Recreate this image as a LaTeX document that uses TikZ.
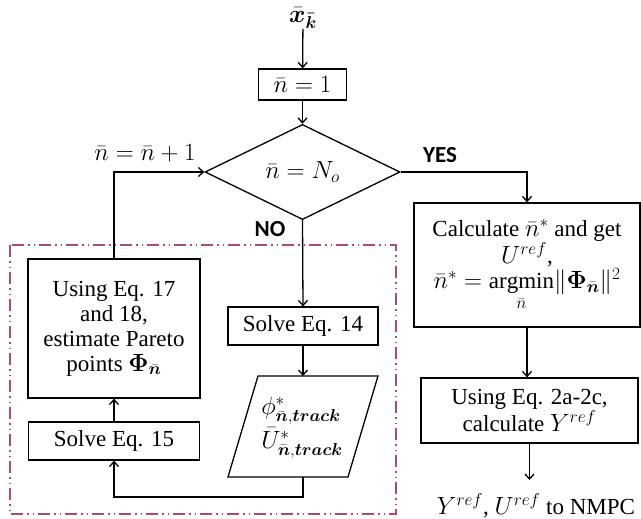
\documentclass[tikz,border=0pt]{standalone}
\usepackage{amsmath}
\usepackage{bm}
\usepackage{fontspec}
\setmainfont{Liberation Serif}
\newfontfamily\labelfont{Carlito}
\usetikzlibrary{shapes.geometric,arrows.meta,calc}
\definecolor{frame}{HTML}{A84E66}
\begin{document}
\begin{tikzpicture}[x=1pt,y=-1pt, line width=1.3pt,
 every node/.style={font=\fontsize{23}{25}\selectfont, inner sep=0pt},
 box/.style={draw, rectangle, align=center},
 arr/.style={-{Straight Barb[length=5pt,width=9pt]}},
 lbl/.style={font=\labelfont\bfseries\fontsize{23}{25}\selectfont},
 redbox/.style={draw=frame, line width=1.5pt, dash pattern=on 12pt off 4pt on 1.5pt off 4pt on 1.5pt off 4pt},
]
\useasboundingbox (0,0) rectangle (641,519);

\draw[redbox] (10,245) rectangle (396,514);

\node[font=\fontsize{27}{29}\selectfont] (xk) at (303,18) {$\bm{\bar{x}_{\bar{k}}}$};
\node[box, minimum width=88pt, minimum height=31pt] (n1) at (302.5,84.5) {$\bar n = 1$};
\node[diamond, draw, minimum width=195pt, minimum height=88pt] (dec) at (302.5,172) {$\bar n = N_o$};
\node[box, minimum width=150pt, minimum height=38pt] (s14) at (303,326) {Solve Eq. 14};
\node[align=left] (para) at (302,428) {$\phi^{*}_{\bar{\bm n},\bm{track}}$\\[2pt] $\bar U^{*}_{\bar{\bm n},\bm{track}}$};
\coordinate (p1) at (258,376);
\coordinate (p2) at (378,376);
\coordinate (p3) at (348,477);
\coordinate (p4) at (228,477);
\draw (p1) -- (p2) -- (p3) -- (p4) -- cycle;
\coordinate (pt) at (303,376);
\coordinate (pb) at (303,477);
\coordinate (pbb) at (303,497);

\node[box, minimum width=172pt, minimum height=139pt] (u17) at (114,328.5) {Using Eq. 17\\and 18,\\estimate Pareto\\points $\bm{\Phi}_{\bar{\bm n}}$};
\node[box, minimum width=171pt, minimum height=38pt] (s15) at (114,441) {Solve Eq. 15};

\node[box, minimum width=226pt, minimum height=124pt] (calc) at (527,265) {Calculate $\bar n^{*}$ and get\\$U^{ref}$,\\$\bar n^{*} = \underset{\bar n}{\mathrm{argmin}}\|\bm{\Phi}_{\bar{\bm n}}\|^2$};
\node[box, minimum width=217pt, minimum height=65pt] (u2a) at (529.5,410.5) {Using Eq. 2a-2c,\\calculate $Y^{ref}$};
\node (out) at (536,506) {$Y^{ref}$, $U^{ref}$ to NMPC};
\coordinate (oute) at (529.5,480);

\node (inc) at (145,153) {$\bar n = \bar n + 1$};
\node[lbl] (yes) at (440,155) {YES};
\node[lbl] (no) at (270,229) {NO};

\draw[arr] (xk) -- (n1);
\draw[arr] (n1) -- (dec);
\draw[arr] (u17.north) |- (dec.west);
\draw[arr] (dec.east) -| (calc.north);
\draw[arr] (dec.south) -- (s14.north);
\draw[arr] (s14.south) -- (pt);
\draw[arr] (pb) -- (pbb) -| (s15.south);
\draw[arr] (s15) -- (u17);
\draw[arr] (calc.south) -- (calc.south |- u2a.north);
\draw[arr] (u2a.south) -- (oute);
\end{tikzpicture}
\end{document}
